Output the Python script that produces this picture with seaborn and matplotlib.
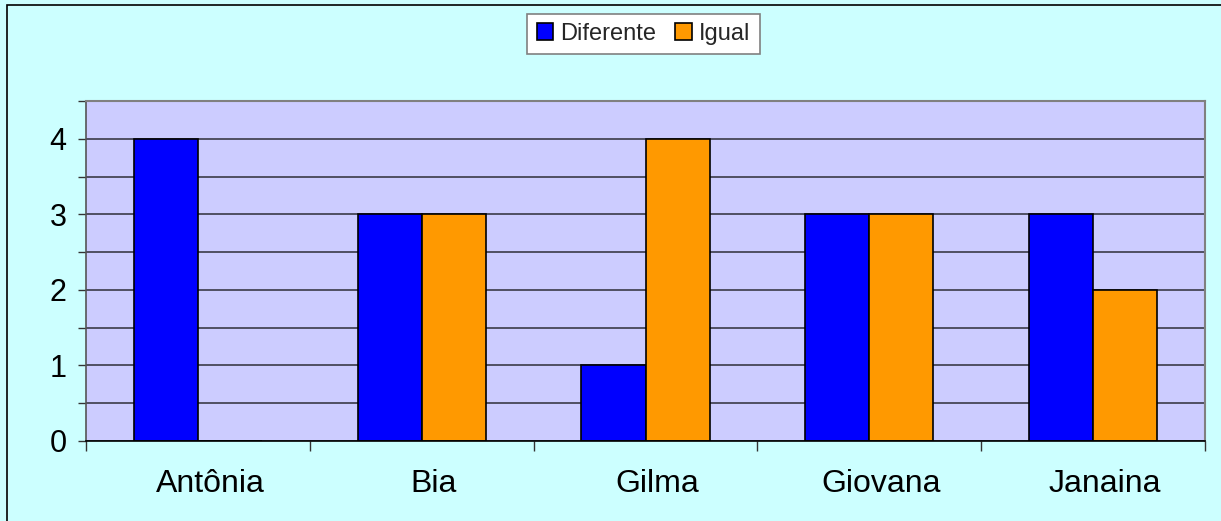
import matplotlib
matplotlib.use("Agg")
import matplotlib.pyplot as plt
from matplotlib.patches import Rectangle, Patch
from matplotlib.ticker import MultipleLocator
from matplotlib.transforms import ScaledTranslation
import numpy as np
import pandas as pd
import seaborn as sns

# Chart data
nomes = ["Antônia", "Bia", "Gilma", "Giovana", "Janaina"]
diferente = [4, 3, 1, 3, 3]
igual = [0, 3, 4, 3, 2]
series = ["Diferente", "Igual"]
cores = ["#0000FF", "#FF9900"]

df = pd.DataFrame({
    "nome": nomes * 2,
    "valor": diferente + igual,
    "tipo": [series[0]] * len(nomes) + [series[1]] * len(nomes),
})

sns.set_theme(style="white")
plt.rcParams["font.family"] = ["Liberation Sans", "DejaVu Sans"]

W, H = 1221, 521
fig = plt.figure(figsize=(W / 100, H / 100), dpi=100)
fig.patch.set_facecolor("#CCFFFF")

# Outer chart border
fig.add_artist(Rectangle((7 / W, -0.02), 1.05, 1 - 5 / H + 0.02,
                         transform=fig.transFigure, fill=False,
                         edgecolor="black", linewidth=1.2))

left, right, top, bottom = 86, 1205, 101, 441
ax = fig.add_axes([left / W, (H - bottom) / H, (right - left) / W, (bottom - top) / H])
ax.set_facecolor("#CCCCFF")

sns.barplot(data=df, x="nome", y="valor", hue="tipo", palette=cores,
            order=nomes, hue_order=series, width=0.572, gap=0,
            edgecolor="black", linewidth=1.2, saturation=1,
            legend=False, ax=ax)

ax.set_xlim(-0.5, len(nomes) - 0.5)
ax.set_ylim(0, 4.5)
ax.set_axisbelow(True)

# Y axis: labels on integers, gridlines and ticks every 0.5
ax.yaxis.set_major_locator(MultipleLocator(1))
ax.yaxis.set_minor_locator(MultipleLocator(0.5))
ax.grid(axis="y", which="both", color="#3a3a48", linewidth=1.2)
ax.tick_params(axis="y", which="both", left=True, length=6, width=1,
               color="#333333", direction="out")
ax.tick_params(axis="y", which="major", labelsize=22, pad=8, labelcolor="black")

# X axis: tick marks at category boundaries, labels centred
ax.set_xticks(np.arange(len(nomes)))
ax.set_xticklabels(nomes)
ax.set_xticks(np.arange(-0.5, len(nomes), 1), minor=True)
ax.tick_params(axis="x", which="major", length=0, labelsize=23, pad=20,
               labelcolor="black")
ax.tick_params(axis="x", which="minor", bottom=True, length=7, width=1,
               color="#333333", direction="out")
# category labels sit slightly right of the group centres
shift = ScaledTranslation(0.12, 0, fig.dpi_scale_trans)
for lbl in ax.get_xticklabels():
    lbl.set_transform(lbl.get_transform() + shift)

ax.set_xlabel("")
ax.set_ylabel("")

for s in ["top", "right"]:
    ax.spines[s].set_color("#808080")
    ax.spines[s].set_linewidth(1.5)
ax.spines["left"].set_color("#555555")
ax.spines["left"].set_linewidth(1.2)
ax.spines["bottom"].set_color("black")
ax.spines["bottom"].set_linewidth(1.2)

handles = [Patch(facecolor=c, edgecolor="black", linewidth=1.2) for c in cores]
leg = fig.legend(handles, series, loc="center",
                 bbox_to_anchor=(643.5 / W, 1 - 34 / H),
                 ncol=2, fontsize=17, frameon=True, fancybox=False,
                 framealpha=1, facecolor="white", edgecolor="#808080",
                 handlelength=0.7, handleheight=0.7, handletextpad=0.3,
                 columnspacing=0.8, borderpad=0.4)
leg.get_frame().set_linewidth(1.2)

fig.savefig("out.png", dpi=100, facecolor=fig.get_facecolor())
